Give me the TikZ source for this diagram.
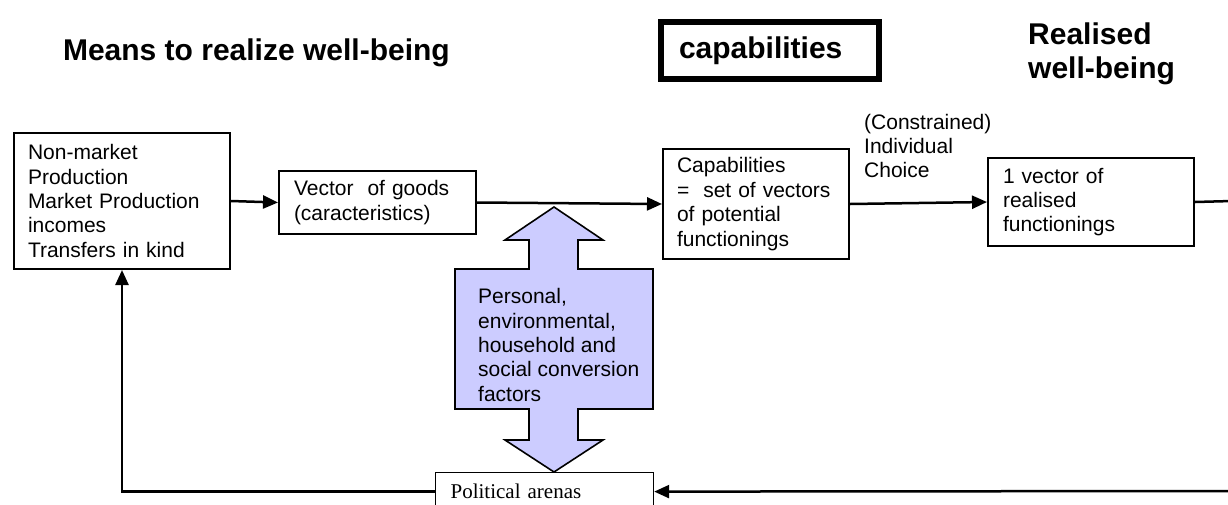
\documentclass[tikz,border=0pt]{standalone}
\usepackage{fontspec}
\setmainfont{Liberation Sans}
\newfontfamily\timesfont{Liberation Serif}
\usetikzlibrary{arrows.meta,calc}
\definecolor{lav}{HTML}{CCCCFF}
\tikzset{
  box/.style={draw, line width=2pt, align=left, inner ysep=0pt, anchor=north west,
    font=\fontsize{21}{24.4}\selectfont},
  conn/.style={line width=2.5pt, -{Triangle[length=15pt,width=13pt]}},
  plain/.style={line width=2.5pt},
  title/.style={font=\bfseries\fontsize{30}{34.5}\selectfont, inner sep=0pt, align=left},
  label/.style={font=\fontsize{21}{24.4}\selectfont, inner sep=0pt, align=left}
}
\begin{document}
\begin{tikzpicture}[x=1pt,y=-1pt]
\useasboundingbox (0,0) rectangle (1228,504);
\clip (0,0) rectangle (1228,504);
% titles
\node[title, anchor=east] (t1) at (450,53) {Means to realize well-being};
\node[draw, line width=6pt, anchor=north west, outer sep=0pt, minimum width=218pt,
  minimum height=57pt, inner xsep=18pt, text width=182pt, align=left,
  font=\bfseries\fontsize{30}{34.5}\selectfont] (t2) at (661,22) {capabilities};
\node[title, anchor=west] (t3) at (1028,54) {Realised\\well-being};
% boxes
\node[box, text width=188pt, inner xsep=14pt, minimum height=136pt] (means) at (13,132)
  {Non-market\\Production\\Market Production\\incomes\\Transfers in kind};
\node[box, text width=167pt, inner xsep=15pt, minimum height=63pt] (vec) at (278,170)
  {Vector\ \ of goods\\(caracteristics)};
\node[box, text width=158pt, inner xsep=14pt, minimum height=110pt] (cap) at (662,148)
  {Capabilities\\=\ \ set of vectors\\of potential\\functionings};
\node[box, text width=176pt, inner xsep=15pt, minimum height=88pt] (rv) at (987,157)
  {1 vector of\\realised\\functionings};
\node[label, anchor=west] (choice) at (864,146) {(Constrained)\\Individual\\Choice};
% political arenas
\node[draw, line width=1.2pt, anchor=north west, minimum width=218pt, minimum height=38pt,
  inner xsep=15pt, text width=188pt, align=left,
  font=\timesfont\fontsize{21}{24}\selectfont] (pol) at (435,472) {Political arenas};
% big double arrow
\draw[line width=1.6pt, fill=lav, line join=miter]
  (554,207) -- (603,240) -- (578,240) -- (578,269) -- (653,269) -- (653,409)
  -- (578,409) -- (578,440) -- (603,440) -- (554,472) -- (505,440) -- (529,440)
  -- (529,409) -- (455,409) -- (455,269) -- (529,269) -- (529,240) -- (505,240) -- cycle;
\node[label, anchor=west] (factors) at (478,345)
  {Personal,\\environmental,\\household and\\social conversion\\factors};
% connectors
\coordinate (rout) at (1232,201);
\coordinate (rin) at (1232,491);
\draw[conn] (means.east) -- (vec.west);
\draw[conn] (vec.east) -- (cap.west);
\draw[conn] (cap.east) -- (rv.west);
\draw[plain] (rv.east) -- (rout);
\draw[conn] (rin) -- (pol.east);
\draw[conn] (pol.west) -| (means.south);
\end{tikzpicture}
\end{document}
